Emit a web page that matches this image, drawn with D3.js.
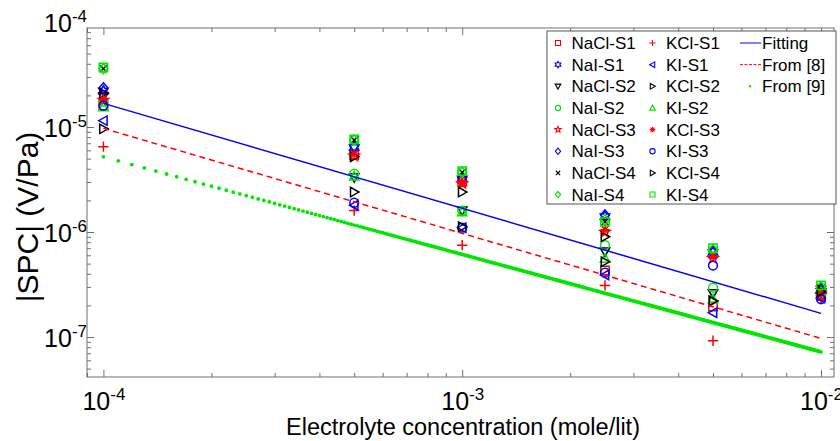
<!DOCTYPE html>
<html>
<head>
<meta charset="utf-8">
<script src="https://cdn.jsdelivr.net/npm/d3@7"></script>
<style>
  body { margin: 0; background: #fff; }
  svg text { font-family: "Liberation Sans", Arial, sans-serif; fill: #000; }
</style>
</head>
<body>
<svg id="chart" width="840" height="441"></svg>
<script>
// concentrations (mole/lit)
const concentrations = [1e-4, 5e-4, 1e-3, 2.5e-3, 5e-3, 1e-2];

// |SPC| (V/Pa) per sample
const naclS1 = [1.6e-5, 5.4e-6, 3.0e-6, 4.3e-7, 1.95e-7, 2.45e-7];
const naiS1  = [2.2e-5, 6.4e-6, 3.2e-6, 1.4e-6, 6.4e-7, 2.85e-7];
const naclS2 = [1.95e-5, 3.3e-6, 1.6e-6, 6.5e-7, 2.6e-7, 2.65e-7];
const naiS2  = [1.75e-5, 3.6e-6, 1.6e-6, 7.5e-7, 2.95e-7, 2.75e-7];
const naclS3 = [1.8e-5, 5.3e-6, 2.9e-6, 1.0e-6, 5.6e-7, 2.5e-7];
const naiS3  = [2.35e-5, 6.6e-6, 3.3e-6, 1.45e-6, 6.6e-7, 2.9e-7];
const naclS4 = [3.6e-5, 7.5e-6, 3.7e-6, 1.25e-6, 6.2e-7, 2.95e-7];
const naiS4  = [3.6e-5, 7.5e-6, 3.7e-6, 1.3e-6, 6.8e-7, 3.0e-7];
const kclS1  = [6.5e-6, 1.6e-6, 7.5e-7, 3.1e-7, 9.2e-8, 2.3e-7];
const kiS1   = [1.15e-5, 1.8e-6, 1.1e-6, 3.9e-7, 1.7e-7, 2.35e-7];
const kclS2  = [2.1e-5, 5.2e-6, 2.4e-6, 9.0e-7, 2.2e-7, 2.8e-7];
const kiS2   = [1.55e-5, 3.4e-6, 1.55e-6, 5.6e-7, 2.3e-7, 2.7e-7];
const kclS3  = [1.85e-5, 5.5e-6, 2.95e-6, 1.05e-6, 5.8e-7, 2.6e-7];
const kiS3   = [1.6e-5, 1.9e-6, 1.1e-6, 4.1e-7, 4.8e-7, 2.3e-7];
const kclS4  = [9.6e-6, 2.4e-6, 1.12e-6, 5.2e-7, 2.2e-7, 2.7e-7];
const kiS4   = [3.7e-5, 7.6e-6, 3.8e-6, 1.25e-6, 7.0e-7, 3.1e-7];

// lines
const lineConc = [1e-4, 1e-2];
const fitting  = [1.68e-5, 1.68e-7];
const from8    = [9.7e-6, 9.7e-8];
const from9    = [5.2e-6, 7.2e-8];
const from9Step = 1e-5; // sampling step of the dotted curve in the source

// ticks
const xTickValues = [1e-4, 1e-3, 1e-2];
const xTickExp = ["-4", "-3", "-2"];
const yTickValues = [1e-4, 1e-5, 1e-6, 1e-7];
const yTickExp = ["-4", "-5", "-6", "-7"];

const RED = "#ff0000", BLUE = "#0000ff", GREEN = "#00e600", BLACK = "#000000";

const series = [
  { name: "NaCl-S1", values: naclS1, color: RED, marker: "square" },
  { name: "NaI-S1", values: naiS1, color: BLUE, marker: "hexagram" },
  { name: "NaCl-S2", values: naclS2, color: BLACK, marker: "triDown" },
  { name: "NaI-S2", values: naiS2, color: GREEN, marker: "circle" },
  { name: "NaCl-S3", values: naclS3, color: RED, marker: "pentagram" },
  { name: "NaI-S3", values: naiS3, color: BLUE, marker: "diamond" },
  { name: "NaCl-S4", values: naclS4, color: BLACK, marker: "x" },
  { name: "NaI-S4", values: naiS4, color: GREEN, marker: "diamond" },
  { name: "KCl-S1", values: kclS1, color: RED, marker: "plus" },
  { name: "KI-S1", values: kiS1, color: BLUE, marker: "triLeft" },
  { name: "KCl-S2", values: kclS2, color: BLACK, marker: "triRight" },
  { name: "KI-S2", values: kiS2, color: GREEN, marker: "triUp" },
  { name: "KCl-S3", values: kclS3, color: RED, marker: "asterisk" },
  { name: "KI-S3", values: kiS3, color: BLUE, marker: "circle" },
  { name: "KCl-S4", values: kclS4, color: BLACK, marker: "triRight" },
  { name: "KI-S4", values: kiS4, color: GREEN, marker: "square" }
];

const plotLeft = 87, plotRight = 834, plotTop = 28, plotBottom = 377;
const axisColor = "#6e6e6e";

const x = d3.scaleLog().domain([9.0e-5, 1.087e-2]).range([plotLeft, plotRight]);
const y = d3.scaleLog().domain([4.16e-8, 8.77e-5]).range([plotBottom, plotTop]);

const svg = d3.select("#chart");

// marker shapes (MATLAB-like), s = scale
function starPath(n, ro, ri) {
  let p = "";
  for (let i = 0; i < n * 2; i++) {
    let r = i % 2 == 0 ? ro : ri;
    let a = -Math.PI / 2 + i * Math.PI / n;
    p += (i == 0 ? "M" : "L") + (r * Math.cos(a)).toFixed(2) + "," + (r * Math.sin(a)).toFixed(2);
  }
  return p + "Z";
}
function markerPath(type, s) {
  switch (type) {
    case "square": return `M${-4.2*s},${-4.2*s}H${4.2*s}V${4.2*s}H${-4.2*s}Z`;
    case "circle": return `M${4.4*s},0A${4.4*s},${4.4*s} 0 1,1 ${-4.4*s},0A${4.4*s},${4.4*s} 0 1,1 ${4.4*s},0Z`;
    case "diamond": return `M0,${-5.2*s}L${4.4*s},0L0,${5.2*s}L${-4.4*s},0Z`;
    case "triDown": return `M${-4.7*s},${-3.7*s}H${4.7*s}L0,${4.7*s}Z`;
    case "triUp": return `M${-4.7*s},${3.7*s}H${4.7*s}L0,${-4.7*s}Z`;
    case "triLeft": return `M${3.7*s},${-4.7*s}V${4.7*s}L${-4.7*s},0Z`;
    case "triRight": return `M${-3.7*s},${-4.7*s}V${4.7*s}L${4.7*s},0Z`;
    case "plus": return `M${-5.2*s},0H${5.2*s}M0,${-5.2*s}V${5.2*s}`;
    case "x": return `M${-3.6*s},${-3.6*s}L${3.6*s},${3.6*s}M${-3.6*s},${3.6*s}L${3.6*s},${-3.6*s}`;
    case "asterisk": return `M${-4.6*s},0H${4.6*s}M0,${-4.6*s}V${4.6*s}M${-3.3*s},${-3.3*s}L${3.3*s},${3.3*s}M${-3.3*s},${3.3*s}L${3.3*s},${-3.3*s}`;
    case "pentagram": return starPath(5, 5.4 * s, 2.2 * s);
    case "hexagram": return starPath(6, 5.4 * s, 3.1 * s);
  }
}

// minor tick values
function logMinor(lo, hi) {
  let out = [];
  for (let e = Math.floor(Math.log10(lo)); e <= Math.ceil(Math.log10(hi)); e++) {
    for (let m = 2; m <= 9; m++) {
      let v = m * Math.pow(10, e);
      if (v >= lo && v <= hi) out.push(v);
    }
  }
  return out;
}
const xMinor = logMinor(x.domain()[0], x.domain()[1]);
const yMinor = logMinor(y.domain()[0], y.domain()[1]);
const xMajorIn = xTickValues.filter(d => x(d) >= plotLeft && x(d) <= plotRight);
const yMajorIn = yTickValues.filter(d => y(d) >= plotTop && y(d) <= plotBottom);

function tickGroup(axis, tx, ty) {
  let g = svg.append("g").attr("transform", `translate(${tx},${ty})`).call(axis);
  g.select(".domain").remove();
  g.selectAll("line").attr("stroke", axisColor);
  g.selectAll("text").remove();
  return g;
}
// ticks inward on all four sides
tickGroup(d3.axisBottom(x).tickValues(xMajorIn).tickSize(-7), 0, plotBottom);
tickGroup(d3.axisBottom(x).tickValues(xMinor).tickSize(-4), 0, plotBottom);
tickGroup(d3.axisTop(x).tickValues(xMajorIn).tickSize(-7), 0, plotTop);
tickGroup(d3.axisTop(x).tickValues(xMinor).tickSize(-4), 0, plotTop);
tickGroup(d3.axisLeft(y).tickValues(yMajorIn).tickSize(-7), plotLeft, 0);
tickGroup(d3.axisLeft(y).tickValues(yMinor).tickSize(-4), plotLeft, 0);
tickGroup(d3.axisRight(y).tickValues(yMajorIn).tickSize(-7), plotRight, 0);
tickGroup(d3.axisRight(y).tickValues(yMinor).tickSize(-4), plotRight, 0);

// tick labels 10^n
let xLab = svg.append("g").attr("transform", `translate(0,${plotBottom})`)
  .call(d3.axisBottom(x).tickValues(xTickValues).tickSize(0).tickFormat(""));
xLab.select(".domain").remove();
xLab.selectAll(".tick text").each(function (d, i) {
  let t = d3.select(this).attr("y", 33).attr("dy", null).attr("font-size", 25).attr("text-anchor", "middle");
  t.append("tspan").text("10");
  t.append("tspan").attr("font-size", 17).attr("dy", -10).text(xTickExp[i]);
});

let yLab = svg.append("g").attr("transform", `translate(${plotLeft},0)`)
  .call(d3.axisLeft(y).tickValues(yTickValues).tickSize(0).tickPadding(0).tickFormat(""));
yLab.select(".domain").remove();
yLab.selectAll(".tick text").each(function (d, i) {
  let t = d3.select(this).attr("dy", "0.36em").attr("font-size", 25).attr("text-anchor", "end");
  t.append("tspan").text("10");
  t.append("tspan").attr("font-size", 17).attr("dy", -10).text(yTickExp[i]);
});

// frame
svg.append("rect")
  .attr("x", plotLeft).attr("y", plotTop)
  .attr("width", plotRight - plotLeft).attr("height", plotBottom - plotTop)
  .attr("fill", "none").attr("stroke", axisColor).attr("stroke-width", 1);

// axis titles
svg.append("text")
  .attr("x", 463).attr("y", 435)
  .attr("text-anchor", "middle").attr("font-size", 23.5)
  .text("Electrolyte concentration (mole/lit)");
svg.append("text")
  .attr("transform", "translate(38,217) rotate(-90)")
  .attr("text-anchor", "middle").attr("font-size", 30)
  .text("|SPC| (V/Pa)");

// data markers
let plot = svg.append("g");
series.forEach(s => {
  plot.append("g").selectAll("path")
    .data(concentrations.map((c, i) => [c, s.values[i]]))
    .enter()
    .append("path")
    .attr("transform", d => `translate(${x(d[0])},${y(d[1])})`)
    .attr("d", markerPath(s.marker, 1))
    .attr("fill", "none")
    .attr("stroke", s.color)
    .attr("stroke-width", 1.5);
});

// lines
let line = d3.line().x(d => x(d[0])).y(d => y(d[1]));
plot.append("path")
  .datum(lineConc.map((c, i) => [c, fitting[i]]))
  .attr("d", line).attr("fill", "none").attr("stroke", BLUE).attr("stroke-width", 1.5);
plot.append("path")
  .datum(lineConc.map((c, i) => [c, from8[i]]))
  .attr("d", line).attr("fill", "none").attr("stroke", RED).attr("stroke-width", 1.5)
  .attr("stroke-dasharray", "6,4");

// From [9]: dots at the source sampling step, drawn as a dash pattern along the line
let g0 = [x(lineConc[0]), y(from9[0])], g1 = [x(lineConc[1]), y(from9[1])];
let stretch = Math.hypot(g1[0] - g0[0], g1[1] - g0[1]) / (g1[0] - g0[0]);
let dash = [];
for (let c = lineConc[0]; c + from9Step <= lineConc[1] * 1.0000001; c += from9Step) {
  dash.push(0, (x(c + from9Step) - x(c)) * stretch);
}
plot.append("path")
  .datum(lineConc.map((c, i) => [c, from9[i]]))
  .attr("d", line).attr("fill", "none").attr("stroke", GREEN).attr("stroke-width", 3.8)
  .attr("stroke-linecap", "round")
  .attr("stroke-dasharray", dash.map(v => v.toFixed(3)).join(","));

// legend
const legX = 547, legY = 31, legW = 289, legH = 173;
let leg = svg.append("g");
leg.append("rect")
  .attr("x", legX).attr("y", legY).attr("width", legW).attr("height", legH)
  .attr("fill", "#fff").attr("stroke", "#555").attr("stroke-width", 1);
const rowY0 = 43, rowStep = 21.65;
series.forEach((s, i) => {
  let col = Math.floor(i / 8), row = i % 8;
  let mx = col == 0 ? 558 : 652.5;
  let yy = rowY0 + row * rowStep;
  leg.append("path")
    .attr("transform", `translate(${mx},${yy})`)
    .attr("d", markerPath(s.marker, 0.6))
    .attr("fill", "none").attr("stroke", s.color).attr("stroke-width", 1.1);
  leg.append("text")
    .attr("x", mx + 13.5).attr("y", yy + 6)
    .attr("font-size", 17).text(s.name);
});
const lineLegend = [
  { name: "Fitting", color: BLUE, dash: null },
  { name: "From [8]", color: RED, dash: "3,1.5" },
  { name: "From [9]", color: GREEN, dash: "dot" }
];
lineLegend.forEach((l, i) => {
  let yy = rowY0 + i * rowStep;
  if (l.dash == "dot") {
    leg.append("circle").attr("cx", 750).attr("cy", yy).attr("r", 1.2).attr("fill", l.color);
  } else {
    leg.append("line").attr("x1", 740).attr("x2", 761).attr("y1", yy).attr("y2", yy)
      .attr("stroke", l.color).attr("stroke-width", 1).attr("stroke-dasharray", l.dash);
  }
  leg.append("text").attr("x", 762).attr("y", yy + 6).attr("font-size", 17).text(l.name);
});
</script>
</body>
</html>
